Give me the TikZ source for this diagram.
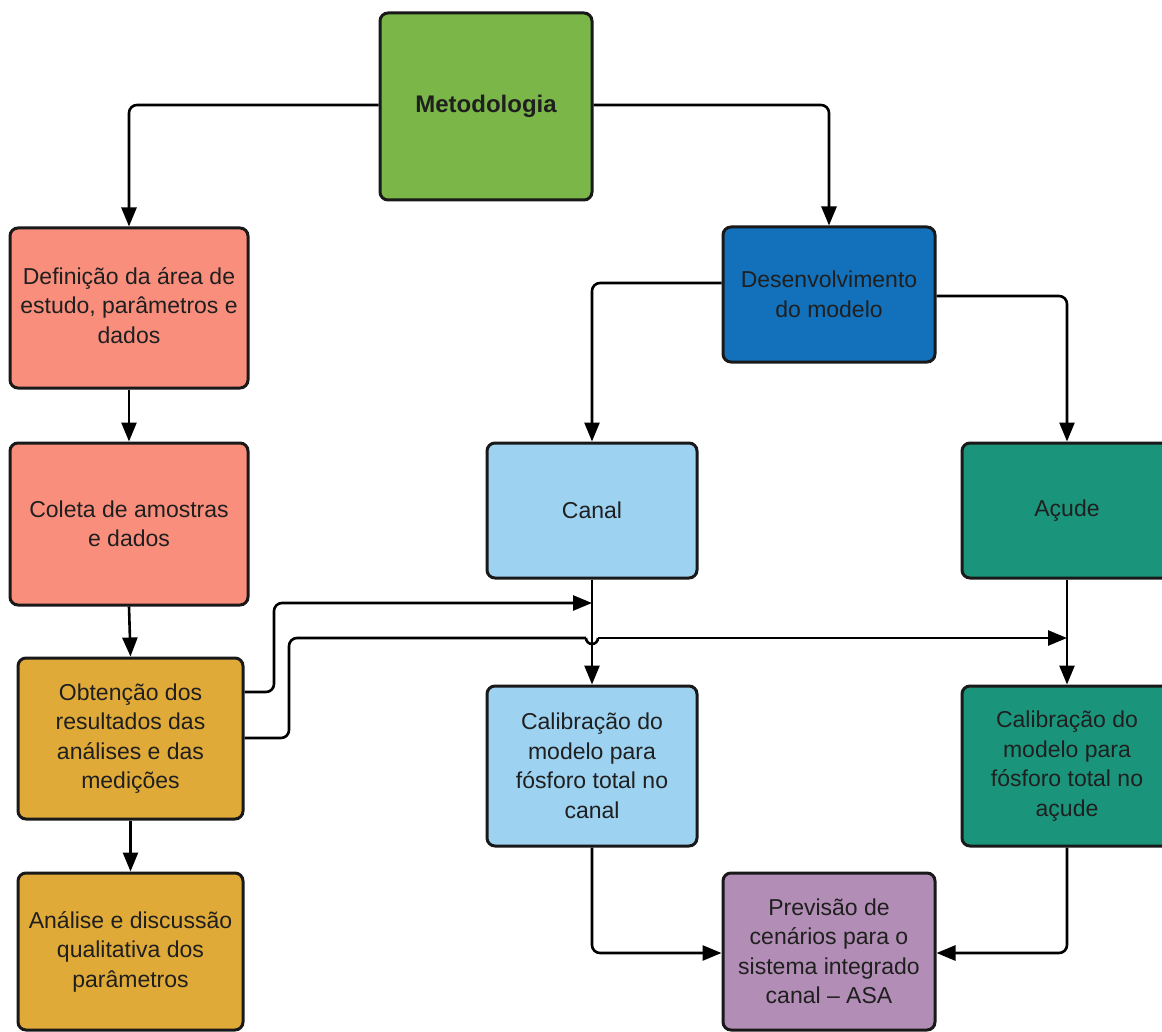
\documentclass[tikz,border=0pt]{standalone}
\usepackage{fontspec}
\setmainfont{Liberation Sans}
\usetikzlibrary{arrows.meta,calc}
\definecolor{cgreen}{HTML}{7AB648}
\definecolor{csalmon}{HTML}{F98E7C}
\definecolor{cgold}{HTML}{E0AA38}
\definecolor{cdblue}{HTML}{1271BA}
\definecolor{clblue}{HTML}{9DD2F1}
\definecolor{cteal}{HTML}{1A957C}
\definecolor{cpurple}{HTML}{B28DB5}
\tikzset{
  box/.style={draw=black!90, line width=3pt, rounded corners=8pt, align=center,
    inner sep=0pt, text=black!88, font=\fontsize{23}{29.5}\selectfont},
  conn/.style={draw=black, line width=2.6pt, rounded corners=8pt},
  arr/.style={conn, -{Triangle[length=19pt,width=15pt]}},
}
\begin{document}
\begin{tikzpicture}[x=1pt,y=-1pt]
\clip (0,0) rectangle (1162,1032);
\fill[white] (0,0) rectangle (1162,1032);
% nodes
\node[box, fill=cgreen, minimum width=212pt, minimum height=187pt, font=\bfseries\fontsize{24}{28}\selectfont] (met) at (486,106.5) {Metodologia};
\node[box, fill=csalmon, minimum width=238pt, minimum height=160pt] (def) at (129,308) {\raisebox{4pt}{\begin{tabular}{@{}c@{}}Definição da área de\\estudo, parâmetros e\\dados\end{tabular}}};
\node[box, fill=csalmon, minimum width=238pt, minimum height=162pt] (col) at (129,524) {Coleta de amostras\\e dados};
\node[box, fill=cgold, minimum width=225pt, minimum height=161pt] (obt) at (130.5,738.5) {Obtenção dos\\resultados das\\análises e das\\medições};
\node[box, fill=cgold, minimum width=225pt, minimum height=157pt] (ana) at (130.5,951.5) {Análise e discussão\\qualitativa dos\\parâmetros};
\node[box, fill=cdblue, minimum width=212pt, minimum height=135pt] (des) at (829,294.5) {Desenvolvimento\\do modelo};
\node[box, fill=clblue, minimum width=210pt, minimum height=135pt] (can) at (592,510.5) {Canal};
\node[box, fill=cteal, minimum width=210pt, minimum height=135pt] (acu) at (1067,510.5) {Açude};
\node[box, fill=clblue, minimum width=210pt, minimum height=160pt] (cc) at (592,766) {Calibração do\\modelo para\\fósforo total no\\canal};
\node[box, fill=cteal, minimum width=210pt, minimum height=160pt] (ca) at (1067,766) {Calibração do\\modelo para\\fósforo total no\\açude};
\node[box, fill=cpurple, minimum width=212pt, minimum height=157pt] (prev) at (829,951.5) {Previsão de\\cenários para o\\sistema integrado\\canal -- ASA};
% junction points
\coordinate (j1) at (592,603);
\coordinate (j2) at (1067,638);
% connectors
\draw[arr] (met.west |- 0,105) -| (def.north);
\draw[arr] (met.east |- 0,105) -| (des.north);
\draw[arr] (def.south) -- (col.north);
\draw[arr] (col.south) -- (obt.north);
\draw[arr] (obt.south) -- (ana.north);
\draw[arr] (des.west |- 0,283) -| (can.north);
\draw[arr] (des.east |- 0,296) -| (acu.north);
\draw[arr] (can.south) -- (cc.north);
\draw[arr] (acu.south) -- (ca.north);
\draw[arr] (cc.south) |- (prev.west |- 0,953);
\draw[arr] (ca.south) |- (prev.east |- 0,953);
\draw[arr] (obt.east |- 0,692) -- (274,692) -- (274,603) -- (j1);
\draw[conn] (obt.east |- 0,738) -- (289,738) -- (289,638) -- (586,638);
\draw[conn, rounded corners=0pt] (586,638) arc[start angle=180, end angle=0, radius=6];
\draw[arr, rounded corners=0pt] (598,638) -- (j2);
\end{tikzpicture}
\end{document}
